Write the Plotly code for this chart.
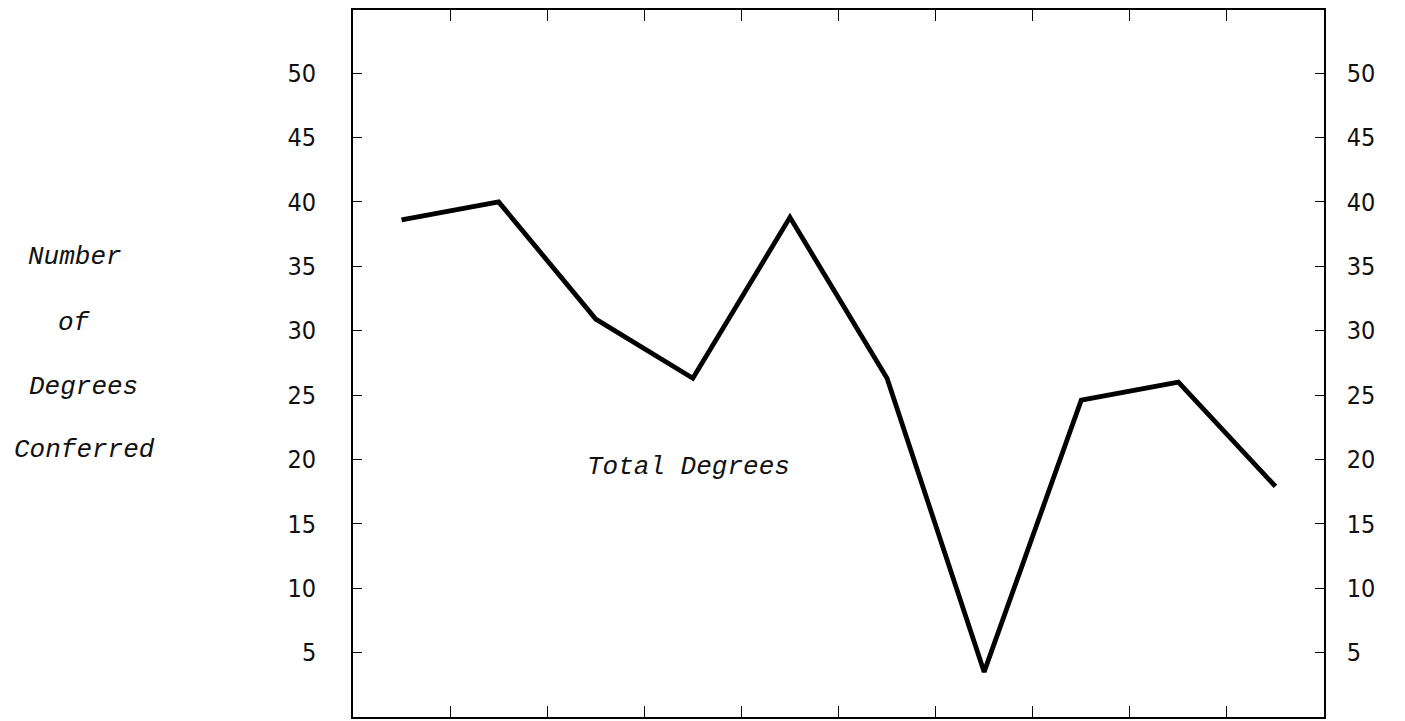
import plotly.graph_objects as go

# Data
periods = list(range(10))
total_degrees = [38.6, 40.0, 30.9, 26.3, 38.8, 26.3, 3.5, 24.6, 26.0, 17.9]
y_ticks = [5, 10, 15, 20, 25, 30, 35, 40, 45, 50]
x_ticks = [0.5, 1.5, 2.5, 3.5, 4.5, 5.5, 6.5, 7.5, 8.5]
title_words = ["Number", "of", "Degrees", "Conferred"]
title_word_y = [35.7, 30.6, 25.6, 20.7]
title_word_x = [-0.2868, -0.2868, -0.2780, -0.2770]

TICK_FONT = dict(family="DejaVu Sans Condensed", size=25, color="#111")
ITAL_FONT = dict(family="Liberation Mono", size=26, color="#111")
YMAX = 54.9

fig = go.Figure()
fig.add_trace(go.Scatter(x=periods, y=total_degrees, mode="lines",
                         line=dict(color="black", width=4.8),
                         showlegend=False, hoverinfo="skip"))
fig.add_trace(go.Scatter(x=periods, y=total_degrees, mode="lines", yaxis="y2",
                         line=dict(color="rgba(0,0,0,0)", width=0),
                         showlegend=False, hoverinfo="skip"))

fig.update_layout(
    width=1405, height=721,
    margin=dict(l=353, r=81, t=10, b=4),
    paper_bgcolor="white", plot_bgcolor="white",
    xaxis=dict(range=[-0.5, 9.5], tickvals=x_ticks, showticklabels=False,
               ticks="inside", ticklen=11, tickwidth=1.3, tickcolor="black",
               showline=True, linecolor="black", linewidth=1.6, mirror="ticks",
               showgrid=False, zeroline=False),
    yaxis=dict(range=[0, YMAX], tickvals=y_ticks, ticks="inside", ticklen=9,
               tickwidth=1.3, tickcolor="black", showline=True, linecolor="black",
               linewidth=1.6, showgrid=False, zeroline=False, tickfont=TICK_FONT,
               ticklabelstandoff=30),
    yaxis2=dict(range=[0, YMAX], tickvals=y_ticks, ticks="inside", ticklen=9,
                tickwidth=1.3, tickcolor="black", showline=True, linecolor="black",
                linewidth=1.6, showgrid=False, zeroline=False, tickfont=TICK_FONT,
                overlaying="y", side="right", ticklabelstandoff=16),
)

for w, wx, wy in zip(title_words, title_word_x, title_word_y):
    fig.add_annotation(text="<i>%s</i>" % w, x=wx, y=wy, xref="paper", yref="y",
                       xanchor="center", yanchor="middle", showarrow=False,
                       font=ITAL_FONT)

fig.add_annotation(text="<i>Total Degrees</i>", x=2.95, y=19.4, xref="x", yref="y",
                   xanchor="center", yanchor="middle", showarrow=False, font=ITAL_FONT)

fig.write_html("out.html", config={"displayModeBar": False},
               post_script="document.body.style.margin='0';document.body.style.overflow='hidden';")
